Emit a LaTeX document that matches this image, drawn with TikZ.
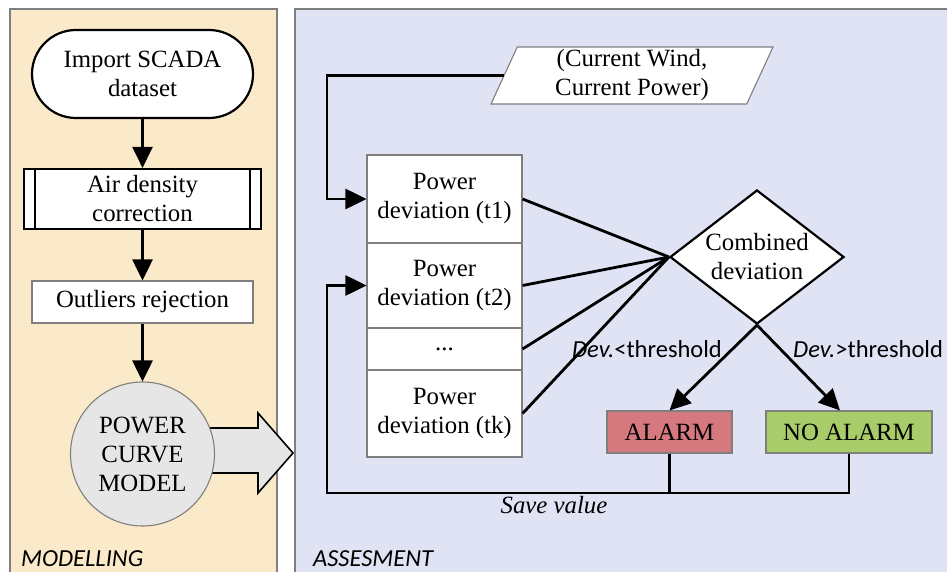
\documentclass[tikz,border=0pt]{standalone}
\usepackage{fontspec}
\setmainfont{Liberation Serif}
\newfontfamily\calib{Carlito}
\usetikzlibrary{arrows.meta,shapes.geometric,shapes.misc}
\definecolor{peach}{HTML}{FBEAC9}
\definecolor{lav}{HTML}{DFE3F3}
\definecolor{alarmc}{HTML}{D5797F}
\definecolor{okc}{HTML}{A9CC6B}
\definecolor{lgray}{HTML}{E6E6E6}
\definecolor{bord}{HTML}{7F7F7F}
\tikzset{
  txt/.style={font=\fontsize{24.8pt}{29pt}\selectfont, align=center, inner sep=0pt},
  term/.style={txt, rounded rectangle, draw=black, line width=2.2pt, fill=white, minimum width=221pt, minimum height=88pt},
  pbox/.style={txt, rectangle, draw=black, line width=2.2pt, fill=white, minimum width=237pt, minimum height=60pt},
  gbox/.style={txt, rectangle, draw=bord, line width=1.1pt, fill=white, minimum width=#1, minimum height=42pt},
  sbox/.style={txt, rectangle, draw=bord, line width=1.1pt, fill=white, minimum width=155pt, minimum height=#1},
  flow/.style={line width=2.8pt, -{Triangle[length=21pt,width=20pt]}},
  conn/.style={line width=2.8pt},
  lab/.style={font=\calib\fontsize{24.5pt}{29pt}\selectfont, inner sep=0pt},
  panel/.style={draw=bord, line width=1.5pt},
}
\begin{document}
\begin{tikzpicture}[x=1pt,y=-1pt]
\useasboundingbox (0,0) rectangle (947,572);
\clip (0,0) rectangle (947,572);
\fill[white] (0,0) rectangle (947,572);
% panels
\filldraw[panel, fill=peach] (10,9) rectangle (277,590);
\filldraw[panel, fill=lav] (295,9) rectangle (960,590);
\node[lab, anchor=base west] (ml) at (21,566) {\itshape MODELLING};
\node[lab, anchor=base west] (al) at (313,566) {\itshape ASSESMENT};
% modelling flow
\node[term] (imp) at (142.5,74) {Import SCADA\\dataset};
\node[pbox] (adc) at (142.5,199) {Air density\\correction};
\draw[line width=1.6pt] ([xshift=12pt]adc.north west) -- ([xshift=12pt]adc.south west)
  ([xshift=-12pt]adc.north east) -- ([xshift=-12pt]adc.south east);
\node[gbox=221pt] (out) at (142.5,302) {Outliers rejection};
% big arrow
\filldraw[draw=black, line width=1.6pt, fill=lgray, line join=miter]
  (200,428) -- (258,428) -- (258,413) -- (293,453) -- (258,493) -- (258,473) -- (200,473) -- cycle;
\node[txt, circle, draw=bord, line width=1.1pt, fill=lgray, minimum size=144pt] (pcm) at (142.5,454) {POWER\\CURVE\\MODEL};
\draw[flow] (imp) -- (adc);
\draw[flow] (adc) -- (out);
\draw[flow] (out) -- (pcm);
% assessment
\node[txt, trapezium, trapezium left angle=63, trapezium right angle=117, trapezium stretches body=true,
  draw=bord, line width=1.1pt, fill=white, minimum width=282pt, minimum height=57pt] (cw) at (632,75.5) {(Current Wind,\\Current Power)};
\node[sbox=88pt] (t1) at (444.5,199) {Power\\deviation (t1)};
\node[sbox=85pt] (t2) at (444.5,285.5) {Power\\deviation (t2)};
\node[sbox=42pt] (td) at (444.5,349) {...};
\node[sbox=87pt] (tk) at (444.5,413.5) {Power\\deviation (tk)};
\node[txt, diamond, aspect=1.3, draw=black, line width=2.2pt, fill=white, minimum width=174pt, minimum height=134pt] (cd) at (757,257) {Combined\\deviation};
\node[gbox=125pt, fill=alarmc] (alarm) at (669.5,432) {ALARM};
\node[gbox=166pt, fill=okc] (noalarm) at (849,432) {NO ALARM};
\coordinate (lb) at (327,493);
\draw[conn] (t1.east) -- (cd.west);
\draw[conn] (t2.east) -- (cd.west);
\draw[conn] (td.east) -- (cd.west);
\draw[conn] (tk.east) -- (cd.west);
\draw[flow] (cd.south) -- (alarm.north);
\draw[flow] (cd.south) -- ([xshift=-9pt]noalarm.north);
\draw[flow] (cw.west) -- (cw.west -| lb) |- (t1.west);
\draw[flow] (noalarm.south) |- (lb) |- (t2.west);
\draw[conn] (alarm.south) -- (alarm.south |- lb);
\node[lab] (lt) at (647,349) {\itshape Dev.\upshape <threshold};
\node[lab, anchor=west] (gt) at (793,349) {\itshape Dev.\upshape >threshold};
\node[txt] (sv) at (554,505) {\itshape Save value};
\end{tikzpicture}
\end{document}
